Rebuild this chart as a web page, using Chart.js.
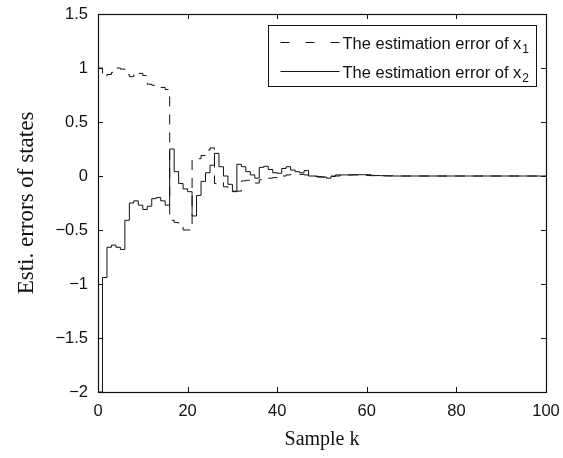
<!DOCTYPE html>
<html>
<head>
<meta charset="utf-8">
<title>Esti. errors of states</title>
<script src="https://cdn.jsdelivr.net/npm/chart.js@4.4.1/dist/chart.umd.min.js"></script>
<style>
  html, body { margin: 0; padding: 0; background: #fff; }
  #wrap { width: 563px; height: 458px; }
</style>
</head>
<body>
<div id="wrap"><canvas id="errChart" width="563" height="458"></canvas></div>
<script>
// Sample index k
const samples = [
  0, 1, 2, 3, 4, 5, 6, 7, 8, 9,
  10, 11, 12, 13, 14, 15, 16, 17, 18, 19,
  20, 21, 22, 23, 24, 25, 26, 27, 28, 29,
  30, 31, 32, 33, 34, 35, 36, 37, 38, 39,
  40, 41, 42, 43, 44, 45, 46, 47, 48, 49,
  50, 51, 52, 53, 54, 55, 56, 57, 58, 59,
  60, 61, 62, 63, 64, 65, 66, 67, 68, 69,
  70, 71, 72, 73, 74, 75, 76, 77, 78, 79,
  80, 81, 82, 83, 84, 85, 86, 87, 88, 89,
  90, 91, 92, 93, 94, 95, 96, 97, 98, 99,
  100
];

// Estimation error of x1 (dashed)
const x1Error = [
  1.00, 0.92, 0.94, 0.96, 1.00, 0.99, 0.94, 0.92, 0.96, 0.95,
  0.93, 0.85, 0.84, 0.83, 0.82, 0.80, -0.41, -0.43, -0.46, -0.50,
  -0.50, 0.15, 0.16, 0.19, 0.24, 0.26, -0.07, -0.06, -0.10, -0.13,
  -0.14, -0.14, -0.045, -0.04, -0.05, -0.065, -0.035, -0.03, -0.02, -0.015,
  -0.02, 0.00, 0.01, 0.015, 0.015, 0.015, 0.01, 0.00, -0.005, -0.01,
  -0.01, -0.012, -0.005, 0.00, 0.005, 0.008, 0.01, 0.01, 0.008, 0.006,
  0.004, 0.003, 0.002, 0.002, 0.001, 0.001, 0, 0, 0, 0,
  0, 0, 0, 0, 0, 0, 0, 0, 0, 0,
  0, 0, 0, 0, 0, 0, 0, 0, 0, 0,
  0, 0, 0, 0, 0, 0, 0, 0, 0, 0,
  0
];

// Estimation error of x2 (solid)
const x2Error = [
  -2.00, -0.94, -0.66, -0.64, -0.66, -0.68, -0.41, -0.25, -0.23, -0.27,
  -0.31, -0.28, -0.21, -0.20, -0.23, -0.27, 0.25, 0.04, -0.07, -0.12,
  -0.145, -0.37, -0.18, -0.05, 0.03, 0.10, 0.21, 0.086, 0.00, -0.077,
  -0.145, 0.108, 0.086, 0.04, 0.01, -0.02, 0.08, 0.09, 0.06, 0.03,
  0.025, 0.07, 0.086, 0.055, 0.04, 0.03, 0.05, 0.00, 0.00, -0.006,
  -0.01, -0.02, 0.00, 0.01, 0.01, 0.01, 0.01, 0.012, 0.012, 0.012,
  0.012, 0.006, 0.004, 0.003, 0.002, 0.001, 0, 0, 0, 0,
  0, 0, 0, 0, 0, 0, 0, 0, 0, 0,
  0, 0, 0, 0, 0, 0, 0, 0, 0, 0,
  0, 0, 0, 0, 0, 0, 0, 0, 0, 0,
  0
];

const xTicks = [0, 20, 40, 60, 80, 100];
const yTicks = [-2, -1.5, -1, -0.5, 0, 0.5, 1, 1.5];

// legend text: [main text, subscript]
const legendLabels = [
  ['The estimation error of x', '1'],
  ['The estimation error of x', '2']
];

const toPoints = values => values.map((v, i) => ({ x: samples[i], y: v }));
const minusSign = v => String(v).replace('-', '\u2212');

/**
 * Box around the axes with inward ticks on all four sides (matlab style)
 */
const boxPlugin = {
  id: 'matlabBox',
  afterDatasetsDraw(chart) {
    const { ctx, chartArea: a, scales } = chart;
    const len = 5;
    ctx.save();
    ctx.strokeStyle = '#111';
    ctx.lineWidth = 1;
    ctx.beginPath();
    xTicks.forEach(v => {
      const px = Math.round(scales.x.getPixelForValue(v)) + 0.5;
      ctx.moveTo(px, a.bottom); ctx.lineTo(px, a.bottom - len);
      ctx.moveTo(px, a.top); ctx.lineTo(px, a.top + len);
    });
    yTicks.forEach(v => {
      const py = Math.round(scales.y.getPixelForValue(v)) + 0.5;
      ctx.moveTo(a.left, py); ctx.lineTo(a.left + len, py);
      ctx.moveTo(a.right, py); ctx.lineTo(a.right - len, py);
    });
    ctx.stroke();
    ctx.lineWidth = 1.2;
    ctx.strokeRect(Math.round(a.left) + 0.5, Math.round(a.top) + 0.5,
      Math.round(a.right - a.left), Math.round(a.bottom - a.top));
    ctx.restore();
  }
};

/**
 * Legend box with subscripts, top right inside the axes
 */
const legendPlugin = {
  id: 'subLegend',
  afterDraw(chart) {
    const { ctx, chartArea: a } = chart;
    const w = 268, h = 61;
    const left = Math.round(a.right - 10 - w) + 0.5;
    const top = Math.round(a.top + 11) + 0.5;
    ctx.save();
    ctx.fillStyle = '#fff';
    ctx.fillRect(left, top, w, h);
    ctx.strokeStyle = '#111';
    ctx.lineWidth = 1;
    ctx.strokeRect(left, top, w, h);

    const rows = [top + 16.5, top + 45];
    const dashes = [[9, 16], []];
    legendLabels.forEach((lab, i) => {
      const y = Math.round(rows[i]) + 0.5;
      ctx.beginPath();
      ctx.setLineDash(dashes[i]);
      ctx.moveTo(left + 12, y);
      ctx.lineTo(left + 71, y);
      ctx.stroke();
      ctx.setLineDash([]);

      ctx.fillStyle = '#111';
      ctx.textBaseline = 'alphabetic';
      ctx.font = '16.5px "Liberation Sans", Arial, sans-serif';
      const tx = left + 74;
      ctx.fillText(lab[0], tx, y + 6);
      const tw = ctx.measureText(lab[0]).width;
      ctx.font = '12px "Liberation Sans", Arial, sans-serif';
      ctx.fillText(lab[1], tx + tw + 1, y + 10);
    });
    ctx.restore();
  }
};

function buildChart() {
  const ctx = document.getElementById('errChart');

  return new Chart(ctx, {
    type: 'line',
    data: {
      datasets: [
        {
          label: 'The estimation error of x1',
          data: toPoints(x1Error),
          borderColor: '#111',
          borderWidth: 1,
          borderDash: [10, 8],
          stepped: true,
          pointRadius: 0,
          fill: false
        },
        {
          label: 'The estimation error of x2',
          data: toPoints(x2Error),
          borderColor: '#111',
          borderWidth: 1,
          stepped: true,
          pointRadius: 0,
          fill: false
        }
      ]
    },
    options: {
      responsive: false,
      animation: false,
      devicePixelRatio: 1,
      layout: { padding: { top: 14, right: 17, left: 0, bottom: 0 } },
      plugins: {
        legend: { display: false },
        tooltip: { enabled: false }
      },
      scales: {
        x: {
          type: 'linear',
          min: 0,
          max: 100,
          afterBuildTicks: scale => { scale.ticks = xTicks.map(v => ({ value: v })); },
          afterFit: scale => {
            scale.height = 66;
            scale.paddingLeft = 0;
            scale.paddingRight = 0;
          },
          grid: { display: false, drawTicks: false },
          border: { display: false },
          ticks: {
            color: '#111',
            padding: 10,
            maxRotation: 0,
            font: { family: '"Liberation Sans", Arial, sans-serif', size: 16.5 },
            callback: v => minusSign(v)
          },
          title: {
            display: true,
            text: 'Sample k',
            color: '#111',
            padding: { top: 0, bottom: 6 },
            font: { family: '"Liberation Serif", "Times New Roman", serif', size: 20 }
          }
        },
        y: {
          type: 'linear',
          min: -2,
          max: 1.5,
          afterBuildTicks: scale => { scale.ticks = yTicks.map(v => ({ value: v })); },
          afterFit: scale => {
            scale.width = 98;
            scale.paddingTop = 0;
            scale.paddingBottom = 0;
          },
          grid: { display: false, drawTicks: false },
          border: { display: false },
          ticks: {
            color: '#111',
            padding: 10,
            font: { family: '"Liberation Sans", Arial, sans-serif', size: 16.5 },
            callback: v => minusSign(v)
          },
          title: {
            display: true,
            text: 'Esti. errors of states',
            color: '#111',
            padding: { top: 13, bottom: 0 },
            font: { family: '"Liberation Serif", "Times New Roman", serif', size: 23 }
          }
        }
      }
    },
    plugins: [boxPlugin, legendPlugin]
  });
}

document.addEventListener('DOMContentLoaded', () => {
  window.errChart = buildChart();
});
</script>
</body>
</html>
